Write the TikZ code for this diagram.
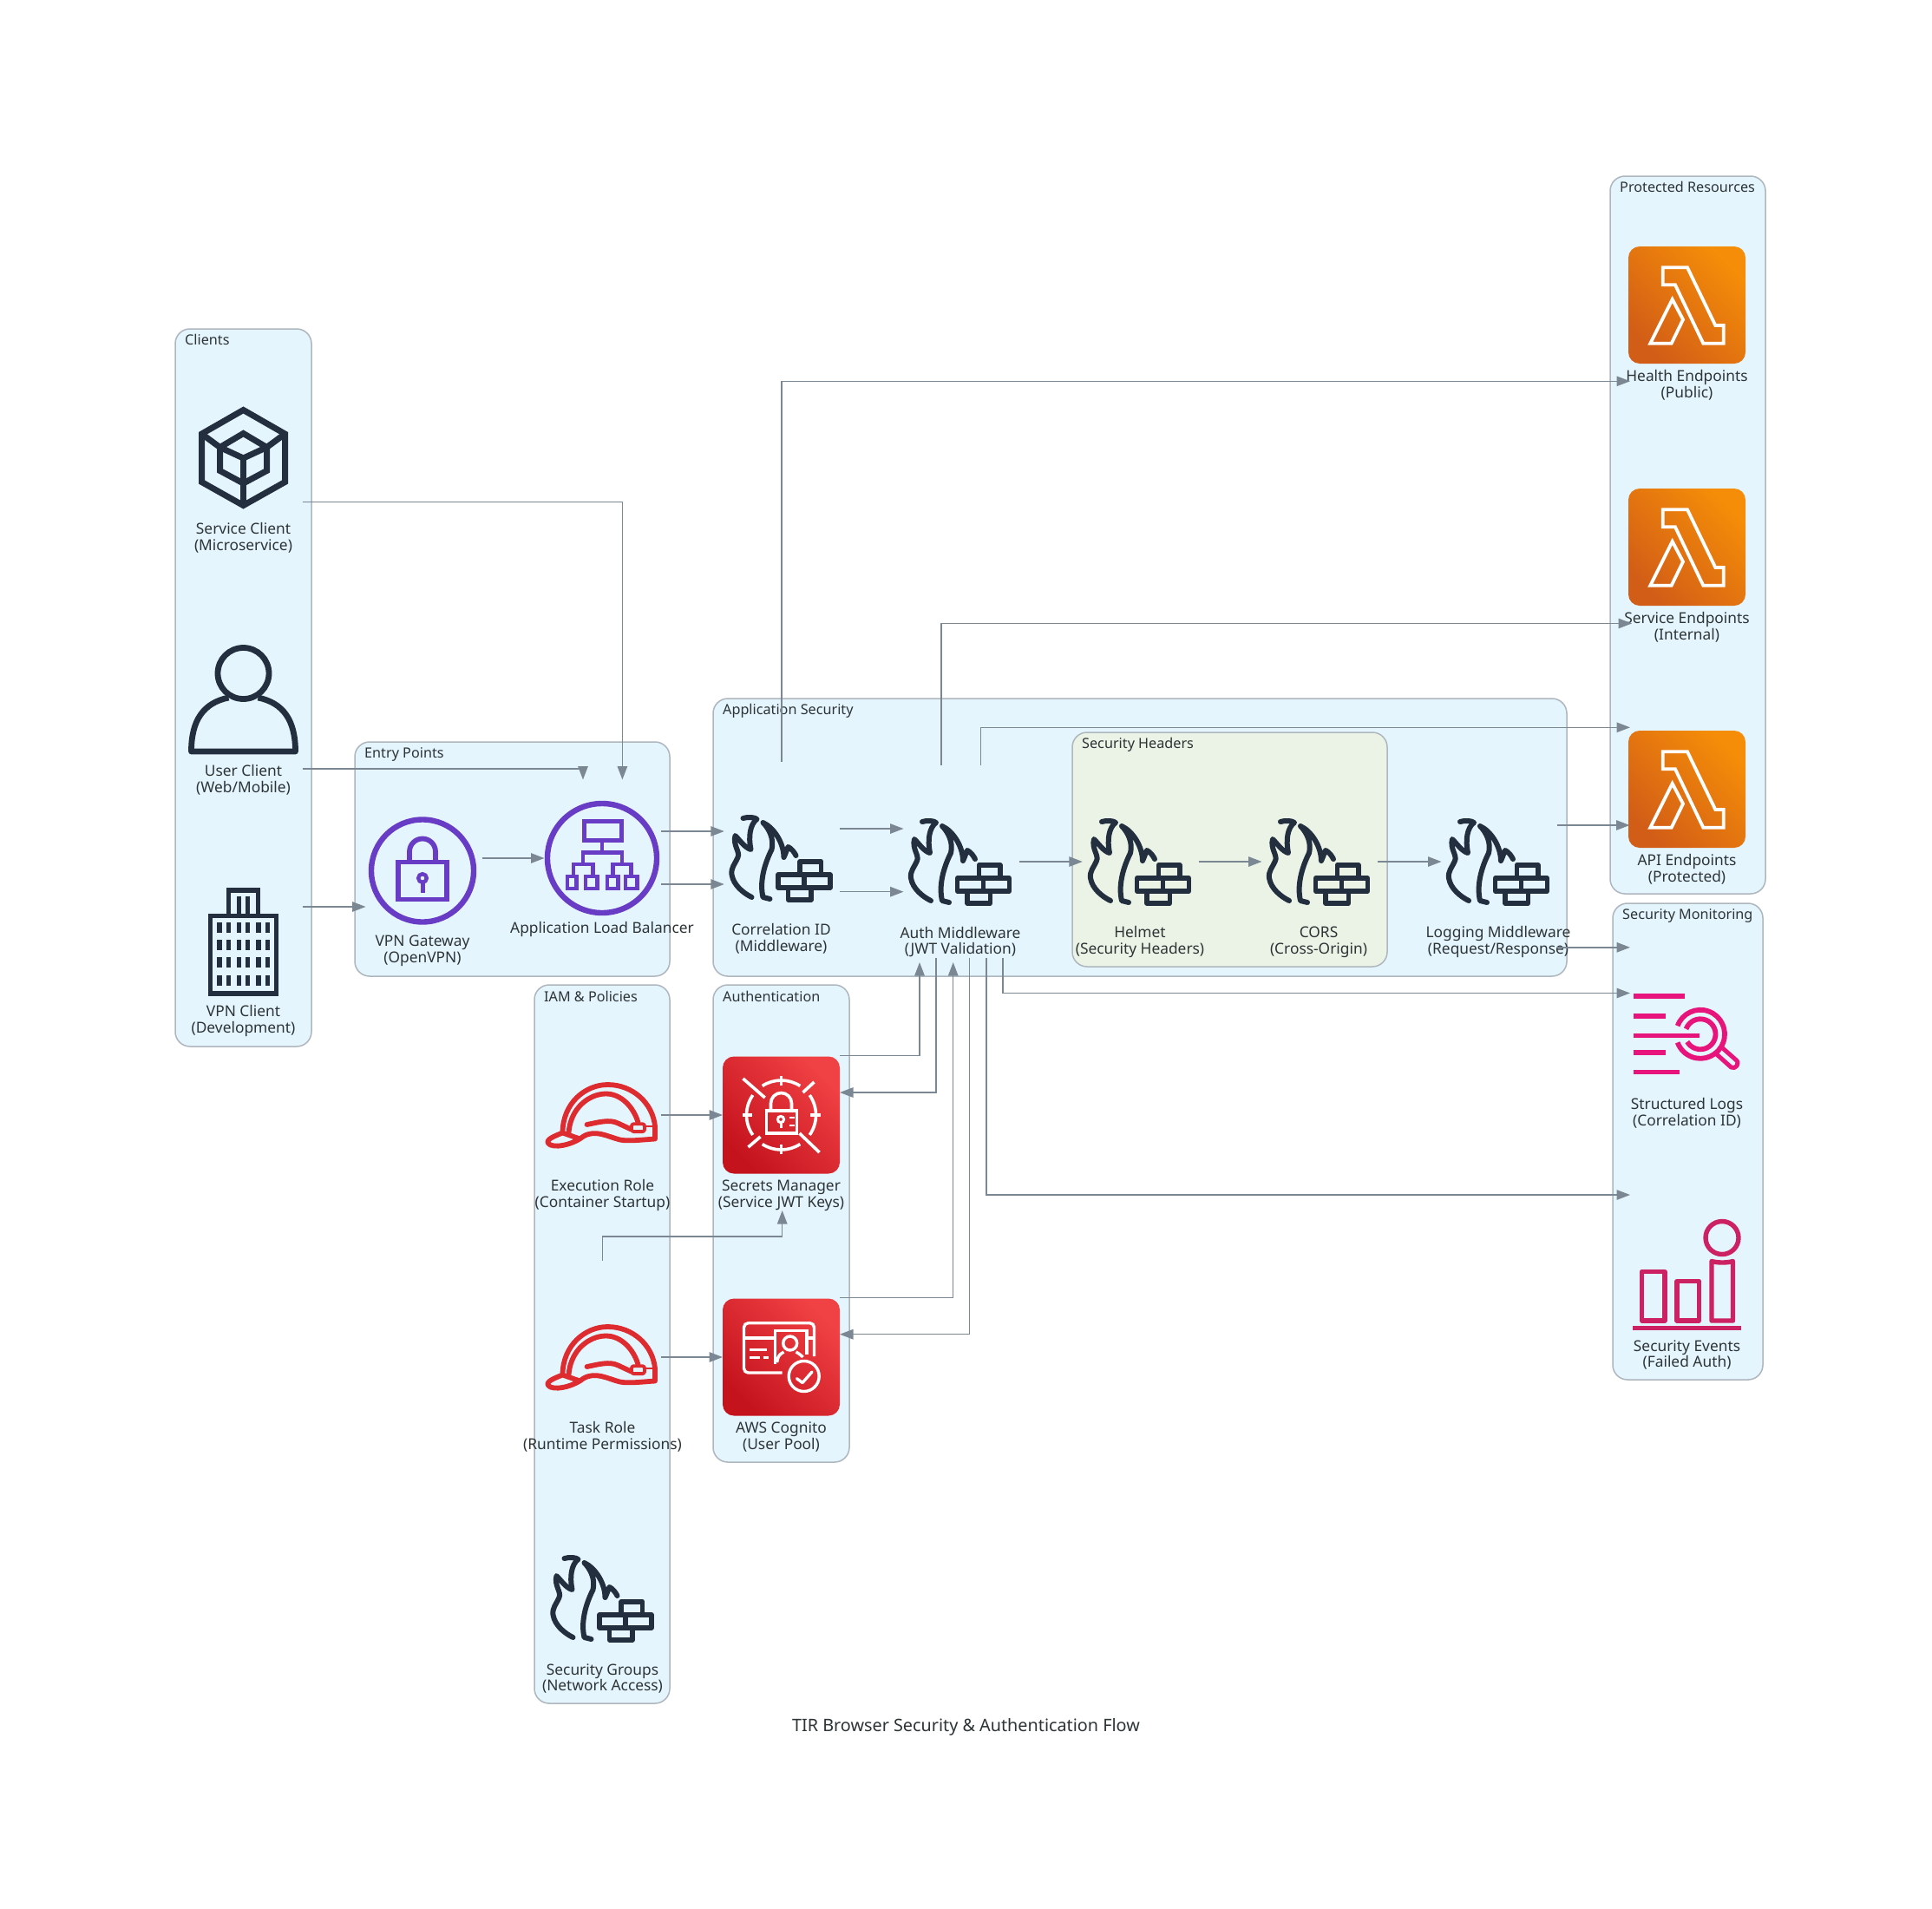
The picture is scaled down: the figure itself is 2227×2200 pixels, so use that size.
\documentclass[tikz,border=0pt]{standalone}
\usepackage{fontspec}
\setmainfont{Noto Sans}
\usetikzlibrary{arrows.meta,calc}
\definecolor{ink}{HTML}{2D3436}
\definecolor{edgec}{HTML}{7B8894}
\definecolor{navy}{HTML}{232F3E}
\definecolor{purp}{HTML}{693CC5}
\definecolor{hatred}{HTML}{DD2B30}
\definecolor{pinkc}{HTML}{E7157B}
\definecolor{rosec}{HTML}{CC2264}
\definecolor{gfill}{HTML}{E5F5FD}
\definecolor{gfilltwo}{HTML}{EBF3E7}
\definecolor{gline}{HTML}{AEB6BE}
\definecolor{orangehi}{HTML}{F58D08}
\definecolor{orangelo}{HTML}{D25D17}
\definecolor{redhi}{HTML}{F04144}
\definecolor{redlo}{HTML}{C5131E}
\tikzset{
  grp/.style={draw=gline,line width=1.5pt,fill=gfill,rounded corners=17pt,inner sep=0pt,outer sep=0pt},
  glab/.style={font=\fontsize{16.2}{18}\selectfont,text=ink,anchor=west,inner sep=0pt},
  lab/.style={font=\fontsize{17.35}{18.6}\selectfont,text=ink,align=center,inner sep=0pt},
  compbox/.style={minimum width=136pt,minimum height=222pt,inner sep=0pt,outer sep=0pt},
  conn/.style={draw=edgec,line width=1.4pt,-{Triangle[length=15.5pt,width=11.5pt]}},
  stk/.style={line width=#1,line join=round,line cap=round},
  firewall/.pic={
    \begin{scope}[draw=navy,stk=6pt]
      \begin{scope}[shift={(0,3)}]
      \draw (-44,-49) .. controls (-38,-51) and (-30,-50) .. (-28,-48) .. controls (-36,-42) and (-38,-28) .. (-35,-13)
        .. controls (-42,-15) and (-48,-24) .. (-53,-29) .. controls (-56,-18) and (-47,-10) .. (-50,-4)
        .. controls (-54,5) and (-58,8) .. (-57,16) .. controls (-55,28) and (-44,37) .. (-34,42);
      \draw (-13,44) -- (-21,42) .. controls (-25,25) and (-20,5) .. (-11,-13) .. controls (-8,-25) and (-14,-37) .. (-21,-44)
        .. controls (-8,-38) and (3,-20) .. (3,-4) .. controls (5,-8) and (6,-12) .. (8,-16) .. controls (12,-14) and (15,-10) .. (17,-6);
      \end{scope}
      \draw[line width=5.4pt] (21.5,19) rectangle (46,3.8);
      \draw[line width=5.4pt] (-3.5,19) rectangle (56.5,34);
      \draw[line width=5.4pt] (26.5,19) -- (26.5,34);
      \draw[line width=5.4pt] (8,34) rectangle (34.5,48);
    \end{scope}},
  hardhat/.pic={
    \begin{scope}[draw=hatred,stk=5.8pt,shift={(0,1.5)}]
      \draw (-46,19) .. controls (-46,-15) and (-20,-36.5) .. (6,-36.5) .. controls (35,-36.5) and (58,-15) .. (60.5,11.5) -- (60.5,26)
        .. controls (45,27) and (30,29) .. (20,27) .. controls (5,23) and (-8,15) .. (-22,23) .. controls (-30,30) and (-50,37) .. (-60,33) .. controls (-67,29) and (-62,25) .. (-46,19) -- (-26,26);
      \draw (-39,19) .. controls (-37,-10) and (-15,-26) .. (4,-26) .. controls (22,-26) and (36,-10) .. (41,7);
      \draw (-18,9.5) .. controls (-5,7) and (8,3) .. (18,8) -- (33,15);
      \draw[line width=3.9pt,rounded corners=2.5pt,fill=gfill] (33.5,8.7) rectangle (48.5,17.6);
      \draw[line width=2.4pt] (60.5,11.5) -- (48.5,11.5);
    \end{scope}},
  lambda/.pic={
    \shade[rounded corners=13pt,top color=orangehi,bottom color=orangelo,shading angle=-45] (-67.5,-67.5) rectangle (67.5,67.5);
    \draw[white,line width=3.8pt,line join=miter] (-27.8,-43.2) -- (0.5,-43.2) -- (32.8,23.5) -- (42.2,23.5) -- (42.2,44.2) -- (18.8,44.2) -- (-13.5,-23.2) -- (-27.8,-23.2) -- cycle;
    \draw[white,line width=3.8pt,line join=miter] (-16.8,-6.5) -- (-4.5,16.8) -- (-17.8,44.2) -- (-42.2,44.2) -- cycle;},
  secrets/.pic={
    \shade[rounded corners=13pt,top color=redhi,bottom color=redlo,shading angle=-45] (-67.5,-67.5) rectangle (67.5,67.5);
    \begin{scope}[draw=white,line width=3.6pt,line cap=butt]
      \draw ($(0,0)+(237:40)$) arc (237:303:40);
      \draw ($(0,0)+(-35:40)$) arc (-35:35:40);
      \draw ($(0,0)+(57:40)$) arc (57:123:40);
      \draw ($(0,0)+(145:40)$) arc (145:215:40);
      \draw (0,-44.8) -- (0,-33.7);
      \draw (0,33.7) -- (0,44.8);
      \draw (-45,0) -- (-33.7,0);
      \draw (33.7,0) -- (45,0);
      \draw (-44,-42) -- (-18.8,-20);
      \draw (21,21) -- (44,43);
      \draw (25,-26) -- (38,-38);
      \draw (-38,37) -- (-24,25);
      \draw (-17,-5) rectangle (18,20.7);
      \draw (-12,-5) -- (-12,-13.5) arc (180:360:12) -- (12,-5);
      \draw[line width=3pt] (-0.5,5) circle (3.6);
      \draw[line width=3pt] (-0.5,8.6) -- (-0.5,14.5);
      \draw[line width=2.6pt] (9,3) -- (15,3);
      \draw[line width=2.6pt] (9,12) -- (15,12);
    \end{scope}},
  cognito/.pic={
    \shade[rounded corners=13pt,top color=redhi,bottom color=redlo,shading angle=-45] (-67.5,-67.5) rectangle (67.5,67.5);
    \begin{scope}[draw=white,line width=3.4pt]
      \draw[rounded corners=5pt] (1,18) -- (-43,18) -- (-43,-39.3) -- (38,-39.3) -- (38,-1);
      \draw (-43,-22) -- (-7,-22);
      \draw (-7,8) -- (-7,-30.7) -- (29.5,-30.7) -- (29.5,-3);
      \draw (29.5,-22) -- (38,-22);
      \draw (10.2,-16) circle (8);
      \draw[rounded corners=3pt] (-5,6) -- (-3,-2) -- (3,-6);
      \draw[rounded corners=3pt] (17,-6) -- (22,-3) -- (25,0);
      \draw (-37,-8.5) -- (-17,-8.5);
      \draw (-37,0.7) -- (-25,0.7);
      \draw (-21,0.7) -- (-15,0.7);
      \draw (26.2,22) circle (17.5);
      \draw[line cap=round,line join=round] (18,24.7) -- (24.5,29.5) -- (35.5,17);
    \end{scope}},
  cubeicon/.pic={
    \begin{scope}[draw=navy,line width=7pt,line join=miter]
      \draw (0,-55) -- (48,-27.5) -- (48,28) -- (0,55) -- (-48,28) -- (-48,-27.5) -- cycle;
      \draw (0,-28) -- (27,-12) -- (27,15) -- (0,29.5) -- (-27,15) -- (-27,-12) -- cycle;
      \draw (-27,-12) -- (0,0.5) -- (27,-12);
      \draw (0,0.5) -- (0,55);
      \draw (-48,-27.5) -- (-27,-12);
      \draw (48,-27.5) -- (27,-12);
    \end{scope}},
  usericon/.pic={
    \begin{scope}[draw=navy,line width=6.8pt,line join=round]
      \draw (0,-30) circle[x radius=29.5pt,y radius=29.5pt];
      \draw (-17,-2) .. controls (-46,4) and (-60,24) .. (-60,60) -- (60,60) .. controls (60,24) and (46,4) .. (17,-2);
    \end{scope}},
  buildicon/.pic={
    \begin{scope}[draw=navy,line width=5.4pt,line join=miter]
      \draw (-38,60.5) rectangle (38,-29);
      \draw (-17,-29) -- (-17,-58.5) -- (17,-58.5) -- (17,-29);
      \foreach \xx in {-27.5,-17,-4.8,5.2,17.5,28} \foreach \yy in {-15.5,4.5,24.5,45.5} \draw[line width=5.4pt] (\xx,\yy-6) -- (\xx,\yy+6);
      \draw (-5,-52) -- (-5,-29);
      \draw (5,-52) -- (5,-29);
    \end{scope}},
  vpnicon/.pic={
    \begin{scope}[draw=purp,line width=6.4pt,line join=miter]
      \draw (0,0) circle (59);
      \draw[line width=5.8pt] (-28,-10) rectangle (28,33);
      \draw[line width=5.8pt] (-15,-10) -- (-15,-22) arc (180:360:15 and 15) -- (15,-10);
      \draw[line width=4.4pt] (0,8.5) circle (4.8);
      \draw[line width=5pt] (0,13) -- (0,25);
    \end{scope}},
  albicon/.pic={
    \begin{scope}[draw=purp,line width=6.4pt,line join=miter]
      \draw (0,0) circle (63);
      \draw[line width=5pt] (-21,-42.5) rectangle (22,-20.5);
      \begin{scope}[line width=4.6pt]
      \draw (0,-20.5) -- (0,-6.5);
      \draw (-22,7) -- (-22,-6.5) -- (23,-6.5) -- (23,7);
      \draw (-33,19.5) -- (-33,7) -- (-10.5,7) -- (-10.5,19.5);
      \draw (12.5,19.5) -- (12.5,7) -- (33.5,7) -- (33.5,19.5);
      \draw (-40,21) rectangle (-29.5,35);
      \draw (-19,21) rectangle (-5.5,35);
      \draw (5.8,21) rectangle (18.3,35);
      \draw (27,21) rectangle (40.5,35);
      \end{scope}
    \end{scope}},
  logsicon/.pic={
    \begin{scope}[draw=pinkc,line width=5.6pt,line cap=butt]
      \draw (-62,-43) -- (-2.5,-43);
      \draw (-62,-20.3) -- (-25,-20.3);
      \draw (-62,2.3) -- (14,2.3);
      \draw (-62,22) -- (-25,22);
      \draw (-62,44.5) -- (-8.5,44.5);
      \draw[line width=5.8pt] ($(15.5,0.8)+(-160:28)$) arc (-160:160:28);
      \draw[line width=5.8pt] ($(15.5,0.8)+(-160:17.5)$) arc (-160:150:17.5);
      \draw[line width=5pt,line join=round] (32,22) -- (51,39) .. controls (56,42) and (62,34) .. (56,30) -- (39,15);
    \end{scope}},
  eventsicon/.pic={
    \begin{scope}[draw=rosec,line width=5.4pt,line join=round]
      \draw (-52,-4) rectangle (-25.5,52.5);
      \draw (-11.5,7) rectangle (14,52.5);
      \draw (28.5,52.5) -- (28.5,-16) .. controls (36,-14) and (46,-14) .. (53,-16) -- (53,52.5) -- cycle;
      \draw[line width=5.8pt] (-62.5,61) -- (62.5,61);
      \draw (40.5,-43) circle (19);
    \end{scope}},
}
\newcommand{\comp}[6]{%
  \node[compbox] (#1) at (#2,#3) {};
  \pic at (#1.center) {#4};
  \node[lab] (#1-l) at ([shift={(0,#5+1.5)}]#1.center) {#6};}
\newcommand{\grouplab}[3]{\node[glab] (#1-t) at ([shift={(11,#3)}]#1.north west) {#2};}
\begin{document}
\begin{tikzpicture}[x=1pt,y=-1pt]
\useasboundingbox[fill=white] (0,0) rectangle (2227,2200);
% groups
\node[grp,minimum width=157pt,minimum height=827pt] (gclients) at (280.5,792.5) {}; \grouplab{gclients}{Clients}{12}
\node[grp,minimum width=363pt,minimum height=270pt] (gentry) at (590.5,990) {}; \grouplab{gentry}{Entry Points}{14}
\node[grp,minimum width=156pt,minimum height=828pt] (giam) at (694,1549) {}; \grouplab{giam}{IAM \& Policies}{13}
\node[grp,minimum width=157pt,minimum height=550pt] (gauth) at (900.5,1410) {}; \grouplab{gauth}{Authentication}{13}
\node[grp,minimum width=984pt,minimum height=320pt] (gapp) at (1314,965) {}; \grouplab{gapp}{Application Security}{14}
\node[grp,fill=gfilltwo,minimum width=363pt,minimum height=270pt] (ghead) at (1417.5,979) {}; \grouplab{ghead}{Security Headers}{14}
\node[grp,minimum width=179pt,minimum height=827pt] (gprot) at (1945.5,616.5) {}; \grouplab{gprot}{Protected Resources}{12}
\node[grp,minimum width=173pt,minimum height=549pt] (gmon) at (1945.5,1315.5) {}; \grouplab{gmon}{Security Monitoring}{14}
% components
\comp{svc}{280.5}{527.5}{cubeicon}{90.6}{Service Client\\(Microservice)}
\comp{usr}{280.5}{806}{usericon}{91}{User Client\\(Web/Mobile)}
\comp{vpc}{280.5}{1084.5}{buildicon}{90.5}{VPN Client\\(Development)}
\comp{gw}{487}{1003.5}{vpnicon}{90.5}{VPN Gateway\\(OpenVPN)}
\comp{alb}{694}{989}{albicon}{80}{Application Load Balancer}
\comp{cor}{900.5}{989}{firewall}{91}{Correlation ID\\(Middleware)}
\comp{aut}{1107}{993}{firewall}{91}{Auth Middleware\\(JWT Validation)}
\comp{hel}{1314}{993}{firewall}{91}{Helmet\\(Security Headers)}
\comp{crs}{1520}{993}{firewall}{91}{CORS\\(Cross-Origin)}
\comp{log}{1727}{993}{firewall}{91}{Logging Middleware\\(Request/Response)}
\comp{hea}{1944.5}{351.5}{lambda}{90.5}{Health Endpoints\\(Public)}
\comp{sep}{1944.5}{630.5}{lambda}{90.5}{Service Endpoints\\(Internal)}
\comp{api}{1944.5}{909.5}{lambda}{90.5}{API Endpoints\\(Protected)}
\comp{exe}{694.5}{1285}{hardhat}{91}{Execution Role\\(Container Startup)}
\comp{tsk}{694.5}{1564}{hardhat}{90.5}{Task Role\\(Runtime Permissions)}
\comp{sgp}{694.5}{1842}{firewall}{91}{Security Groups\\(Network Access)}
\comp{sec}{900.5}{1285}{secrets}{91}{Secrets Manager\\(Service JWT Keys)}
\comp{cog}{900.5}{1564}{cognito}{90.5}{AWS Cognito\\(User Pool)}
\comp{slg}{1944.5}{1191}{logsicon}{90}{Structured Logs\\(Correlation ID)}
\comp{sev}{1944.5}{1469.5}{eventsicon}{90.5}{Security Events\\(Failed Auth)}
\node[lab,font=\fontsize{19.8}{21}\selectfont] (title) at (1113.5,1990.5) {TIR Browser Security \& Authentication Flow};
% connectors
\draw[conn] ([shift={(68,51.2)}]svc.center) -| ([shift={(23.4,-90.5)}]alb.center);
\draw[conn] ([shift={(68,80)}]usr.center) -| ([shift={(-22,-90.5)}]alb.center);
\draw[conn] ([shift={(68,-39.5)}]vpc.center) -- ([shift={(-65.5,41.5)}]gw.center);
\draw[conn] ([shift={(68.5,-14.5)}]gw.center) -- ([shift={(-66.5,0)}]alb.center);
\draw[conn] ([shift={(67.7,-31)}]alb.center) -- ([shift={(-65.7,-31)}]cor.center);
\draw[conn] ([shift={(67.7,30)}]alb.center) -- ([shift={(-65.7,30)}]cor.center);
\draw[conn] ([shift={(67.8,-34)}]cor.center) -- ([shift={(-65.5,-38)}]aut.center);
\draw[conn] ([shift={(67.8,38.7)}]cor.center) -- ([shift={(-65.5,34.7)}]aut.center);
\draw[conn] ([shift={(68,0)}]aut.center) -- ([shift={(-66.2,0)}]hel.center);
\draw[conn] ([shift={(67.7,0)}]hel.center) -- ([shift={(-65.5,0)}]crs.center);
\draw[conn] ([shift={(68,0)}]crs.center) -- ([shift={(-65.5,0)}]log.center);
\draw[conn] ([shift={(68,-42)}]log.center) -- ([shift={(-66,41.5)}]api.center);
\draw[conn] ([shift={(68,98.8)}]log.center) -- ([shift={(-65.5,-99.2)}]slg.center);
\draw[conn] ([shift={(0.4,-111.3)}]cor.center) |- ([shift={(-65.5,87.8)}]hea.center);
\draw[conn] ([shift={(-22,-111)}]aut.center) |- ([shift={(-63.5,88)}]sep.center);
\draw[conn] ([shift={(23.4,-111)}]aut.center) |- ([shift={(-65.5,-71.2)}]api.center);
\draw[conn] ([shift={(67.5,-68.4)}]sec.center) -| ([shift={(-47,116)}]aut.center);
\draw[conn] ([shift={(-28,111)}]aut.center) |- ([shift={(67.5,-26)}]sec.center);
\draw[conn] ([shift={(67.5,-68.5)}]cog.center) -| ([shift={(-8.3,116)}]aut.center);
\draw[conn] ([shift={(10.4,111)}]aut.center) |- ([shift={(67.5,-26.3)}]cog.center);
\draw[conn] ([shift={(30,111)}]aut.center) |- ([shift={(-65.5,-92.5)}]sev.center);
\draw[conn] ([shift={(48.8,111)}]aut.center) |- ([shift={(-65.5,-46.5)}]slg.center);
\draw[conn] ([shift={(67.2,0)}]exe.center) -- ([shift={(-67.5,0)}]sec.center);
\draw[conn] ([shift={(67.2,0)}]tsk.center) -- ([shift={(-67.5,0)}]cog.center);
\draw[conn] ([shift={(0.2,-111.4)}]tsk.center) -- ++(0,-27.7) -| ([shift={(1.2,110)}]sec.center);
\end{tikzpicture}
\end{document}
